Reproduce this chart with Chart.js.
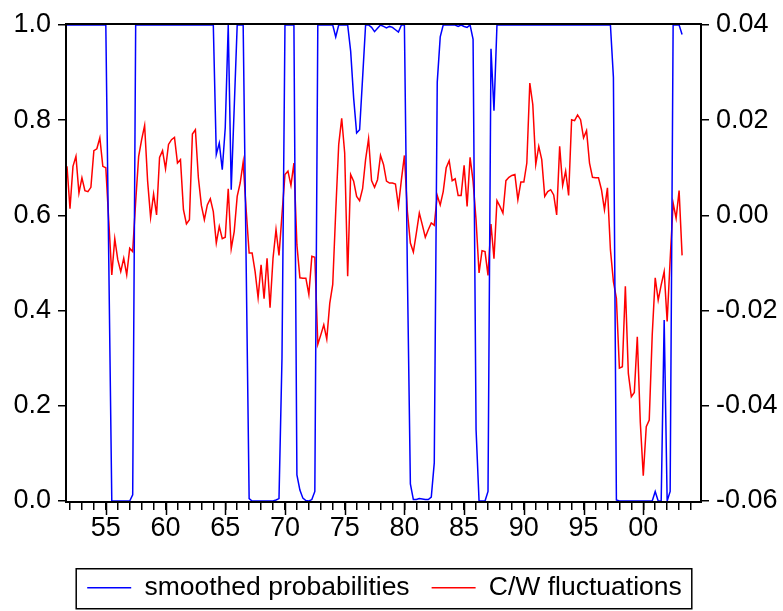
<!DOCTYPE html>
<html>
<head>
<meta charset="utf-8">
<script src="https://cdn.jsdelivr.net/npm/chart.js@4.4.1/dist/chart.umd.min.js"></script>
<style>
  html, body { margin: 0; padding: 0; background: #fff; }
</style>
</head>
<body>
<canvas id="c" width="783" height="611"></canvas>
<script>
// quarterly sample, first observation 1951Q4
var firstYear = 1951, firstQ = 4, nObs = 207;

var smoothedProb = [
  1.0, 1.0, 1.0, 1.0, 1.0, 1.0, 1.0, 1.0, 1.0, 1.0, 1.0, 1.0, 1.0, 1.0, 0.5,
  0.0, 0.0, 0.0, 0.0, 0.0, 0.0, 0.0, 0.013,
  1.0, 1.0, 1.0, 1.0, 1.0, 1.0, 1.0, 1.0, 1.0, 1.0, 1.0, 1.0, 1.0, 1.0, 1.0, 1.0, 1.0, 1.0,
  1.0, 1.0, 1.0, 1.0, 1.0, 1.0, 1.0, 1.0, 1.0,
  0.728, 0.752, 0.696, 0.784, 1.0, 0.654, 0.826, 1.0, 1.0, 1.0, 0.5, 0.005,
  0.0, 0.0, 0.0, 0.0, 0.0, 0.0, 0.0, 0.0, 0.002, 0.005, 0.3,
  1.0, 1.0, 1.0, 1.0, 0.055, 0.023, 0.006, 0.001, 0.0, 0.003, 0.02,
  1.0, 1.0, 1.0, 1.0, 1.0, 1.0, 0.975, 1.0, 1.0, 1.0, 1.0,
  0.945, 0.847, 0.773, 0.78, 0.889,
  1.0, 1.0, 0.995, 0.986, 0.993, 1.0, 0.997, 0.994, 0.997, 0.995, 0.99, 0.985, 1.0, 1.0,
  0.48, 0.036, 0.003, 0.003, 0.005, 0.004, 0.003, 0.003, 0.008, 0.08, 0.88, 0.975,
  1.0, 1.0, 1.0, 1.0, 1.0, 0.997, 1.0, 0.997, 0.995, 1.0,
  0.97, 0.15, 0.0, 0.0, 0.0, 0.02, 0.95, 0.82,
  1.0, 1.0, 1.0, 1.0, 1.0, 1.0, 1.0, 1.0, 1.0, 1.0, 1.0, 1.0, 1.0, 1.0, 1.0, 1.0, 1.0, 1.0, 1.0, 1.0,
  1.0, 1.0, 1.0, 1.0, 1.0, 1.0, 1.0, 1.0, 1.0, 1.0, 1.0, 1.0, 1.0, 1.0, 1.0, 1.0, 1.0, 1.0, 1.0,
  0.89, 0.002,
  0.0, 0.0, 0.0, 0.0, 0.0, 0.0, 0.0, 0.0, 0.0, 0.0, 0.0, 0.0,
  0.02, 0.0, 0.0, 0.38, 0.0, 0.02, 1.0, 1.0, 1.0, 0.98
];

var cwFluct = [
  0.0103, 0.0014, 0.0103, 0.0124, 0.0047, 0.0079, 0.0052, 0.0050, 0.0059, 0.0136,
  0.0140, 0.0163, 0.0103, 0.0100, -0.0013, -0.0125, -0.0049, -0.0093, -0.0118, -0.0090,
  -0.0125, -0.0069, -0.0076, 0.0029, 0.0124, 0.0159, 0.0189, 0.0072, -0.0004, 0.0045,
  0.0001, 0.0122, 0.0136, 0.0098, 0.0149, 0.0159, 0.0164, 0.0110, 0.0117, 0.0012,
  -0.0018, -0.0009, 0.0171, 0.0180, 0.0079, 0.0021, -0.0009, 0.0022, 0.0035, 0.0008,
  -0.0058, -0.0023, -0.0049, -0.0046, 0.0056, -0.0070, -0.0034, 0.0040, 0.0068, 0.0112,
  0.0012, -0.0079, -0.0079, -0.0118, -0.0173, -0.0104, -0.0175, -0.0090, -0.0194, -0.0090,
  -0.0030, -0.0084, 0.0001, 0.0086, 0.0093, 0.0063, 0.0110, -0.0062, -0.0131, -0.0132,
  -0.0132, -0.0166, -0.0086, -0.0088, -0.0271, -0.0251, -0.0230, -0.0260, -0.0185, -0.0145,
  0.0008, 0.0149, 0.0204, 0.0131, -0.0128, 0.0086, 0.0072, 0.0040, 0.0031, 0.0056,
  0.0117, 0.0161, 0.0073, 0.0059, 0.0075, 0.0126, 0.0107, 0.0072, 0.0068, 0.0068,
  0.0066, 0.0019, 0.0075, 0.0126, 0.0008, -0.0058, -0.0077, -0.0037, 0.0005, -0.0020,
  -0.0046, -0.0030, -0.0016, -0.0021, 0.0042, 0.0022, 0.0050, 0.0100, 0.0115, 0.0073,
  0.0077, 0.0042, 0.0042, 0.0105, 0.0019, 0.0122, 0.0072, -0.0010, -0.0121, -0.0074,
  -0.0076, -0.0126, -0.0018, -0.0091, 0.0031, 0.0019, 0.0005, 0.0073, 0.0080, 0.0084,
  0.0086, 0.0033, 0.0070, 0.0070, 0.0110, 0.0278, 0.0233, 0.0107, 0.0145, 0.0117,
  0.0040, 0.0050, 0.0054, 0.0043, 0.0001, 0.0145, 0.0063, 0.0093, 0.0042, 0.0201,
  0.0199, 0.0211, 0.0201, 0.0163, 0.0178, 0.0110, 0.0080, 0.0079, 0.0079, 0.0054,
  0.0012, 0.0058, -0.0072, -0.0139, -0.0174, -0.0321, -0.0318, -0.0149, -0.0332, -0.0381,
  -0.0372, -0.0255, -0.0434, -0.0547, -0.0444, -0.0430, -0.0251, -0.0131, -0.0178, -0.0146,
  -0.0118, -0.0223, -0.0093, 0.0026, -0.0006, 0.0052, -0.0084
];

var leftTicks = [0, 0.2, 0.4, 0.6, 0.8, 1.0];
var leftLabels = ['0.0', '0.2', '0.4', '0.6', '0.8', '1.0'];
var rightTicks = [-0.06, -0.04, -0.02, 0, 0.02, 0.04];
var rightLabels = ['-0.06', '-0.04', '-0.02', '0.00', '0.02', '0.04'];
var labelYears = [1955, 1960, 1965, 1970, 1975, 1980, 1985, 1990, 1995, 2000];
var yearLabels = ['55', '60', '65', '70', '75', '80', '85', '90', '95', '00'];

// quarter categories and their positions on the time axis
var quarters = [], xPos = [];
for (var i = 0; i < nObs; i++) {
  var q = firstQ - 1 + i;
  var yr = firstYear + Math.floor(q / 4);
  quarters.push(yr + 'Q' + (q % 4 + 1));
  xPos.push(yr + (q % 4) / 4);
}
var tickYears = [];
for (var y = 1952; y <= 2004; y++) tickYears.push(y);

function pts(vals) {
  return vals.map(function (v, k) { return { x: xPos[k], y: v }; });
}

var FONT = '"Liberation Sans Narrow", "Liberation Sans", Arial, sans-serif';
Chart.defaults.font.family = FONT;
Chart.defaults.color = '#000';

var framePlugin = {
  id: 'frame',
  afterLayout: function (chart) {
    // legend sits a little left of centre in the original
    chart.legend.left -= 7;
    chart.legend.right -= 7;
  },
  afterDraw: function (chart) {
    var ctx = chart.ctx, a = chart.chartArea, xs = chart.scales.x;
    ctx.save();
    ctx.strokeStyle = '#000';
    // longer ticks at the labelled years
    ctx.lineWidth = 1.5;
    ctx.beginPath();
    labelYears.forEach(function (yv) {
      var px = Math.round(xs.getPixelForValue(yv)) + 0.5;
      ctx.moveTo(px, a.bottom);
      ctx.lineTo(px, a.bottom + 14);
    });
    ctx.stroke();
    ctx.lineWidth = 2;
    ctx.strokeRect(a.left - 1, a.top - 1, a.right - a.left + 2, a.bottom - a.top + 2);
    // box round the legend
    var hb = chart.legend.legendHitBoxes;
    if (hb && hb.length) {
      var l = hb[0].left, r = hb[hb.length - 1].left + hb[hb.length - 1].width;
      var cy = hb[0].top + hb[0].height / 2;
      ctx.lineWidth = 1.5;
      ctx.strokeRect(l - 11, cy - 19, r - l + 21, 40);
    }
    ctx.restore();
  }
};

new Chart(document.getElementById('c'), {
  type: 'line',
  data: {
    datasets: [{
      label: 'smoothed probabilities',
      data: pts(smoothedProb),
      yAxisID: 'yL',
      borderColor: '#0000ff',
      backgroundColor: '#0000ff',
      borderWidth: 1.5,
      pointRadius: 0,
      tension: 0
    }, {
      label: 'C/W fluctuations',
      data: pts(cwFluct),
      yAxisID: 'yR',
      borderColor: '#ff0000',
      backgroundColor: '#ff0000',
      borderWidth: 1.5,
      pointRadius: 0,
      tension: 0
    }]
  },
  options: {
    responsive: false,
    animation: false,
    layout: { padding: { top: 25, bottom: 0, left: 0, right: 0 } },
    plugins: {
      legend: {
        position: 'bottom',
        labels: {
          usePointStyle: true,
          pointStyle: 'line',
          pointStyleWidth: 44,
          padding: 22,
          font: { size: 26.5 },
          color: '#000'
        }
      },
      tooltip: { enabled: false }
    },
    scales: {
      x: {
        type: 'linear',
        min: 1951.75,
        max: 2004.75,
        afterBuildTicks: function (s) { s.ticks = tickYears.map(function (v) { return { value: v }; }); },
        afterFit: function (s) { s.height = 51.5; },
        border: { display: false },
        grid: { drawOnChartArea: false, tickLength: 9, color: '#000', lineWidth: 1.5 },
        ticks: {
          autoSkip: false,
          maxRotation: 0,
          padding: 2,
          font: { size: 27 },
          callback: function (v) {
            var k = labelYears.indexOf(v);
            return k >= 0 ? yearLabels[k] : '';
          }
        }
      },
      yL: {
        position: 'left',
        min: 0,
        max: 1,
        afterBuildTicks: function (s) { s.ticks = leftTicks.map(function (v) { return { value: v }; }); },
        afterFit: function (s) { s.width = 67; },
        border: { display: false },
        grid: { drawOnChartArea: false, tickLength: 9, color: '#000', lineWidth: 1.5 },
        ticks: {
          padding: 7,
          font: { size: 27 },
          callback: function (v) { return leftLabels[leftTicks.indexOf(v)]; }
        }
      },
      yR: {
        position: 'right',
        min: -0.06,
        max: 0.04,
        afterBuildTicks: function (s) { s.ticks = rightTicks.map(function (v) { return { value: v }; }); },
        afterFit: function (s) { s.width = 83; },
        border: { display: false },
        grid: { drawOnChartArea: false, tickLength: 9, color: '#000', lineWidth: 1.5 },
        ticks: {
          padding: 7,
          font: { size: 27 },
          callback: function (v) { return rightLabels[rightTicks.indexOf(v)]; }
        }
      }
    }
  },
  plugins: [framePlugin]
});
</script>
</body>
</html>
